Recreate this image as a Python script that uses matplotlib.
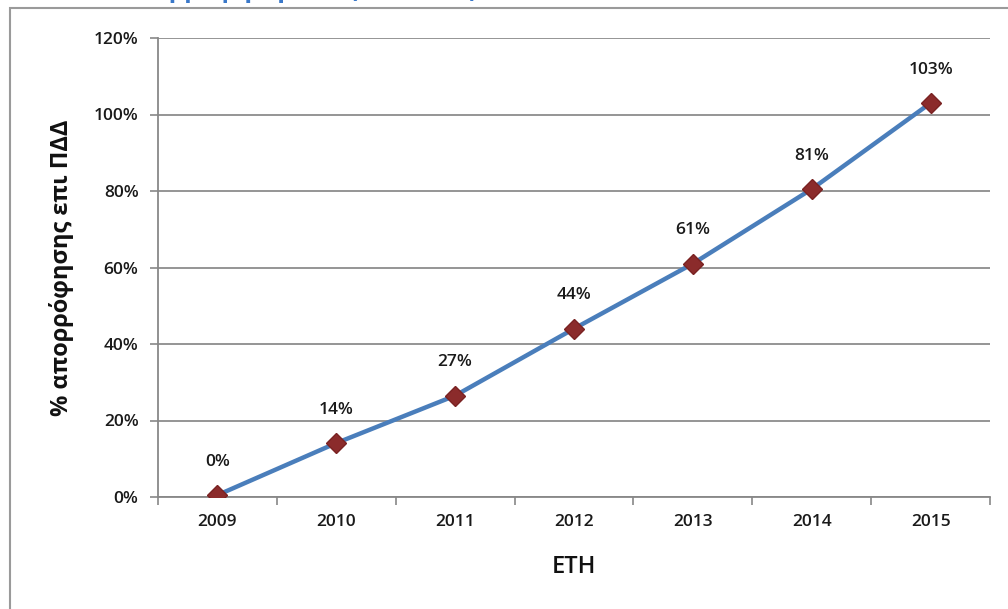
import matplotlib
matplotlib.use("Agg")
import matplotlib.pyplot as plt
from matplotlib.patches import Rectangle

years = ["2009", "2010", "2011", "2012", "2013", "2014", "2015"]
absorption = [0.005, 0.141, 0.265, 0.44, 0.61, 0.805, 1.03]
labels = ["0%", "14%", "27%", "44%", "61%", "81%", "103%"]
yticks = [0.0, 0.2, 0.4, 0.6, 0.8, 1.0, 1.2]
ytick_labels = ["0%", "20%", "40%", "60%", "80%", "100%", "120%"]

plt.rcParams['font.family'] = ['Open Sans', 'DejaVu Sans']

fig = plt.figure(figsize=(10.08, 6.09), dpi=100)
W, H = 1008, 609
# outer chart frame
fig.patches.append(Rectangle((10 / W, -0.1), 1.2, (H - 8) / H + 0.1, transform=fig.transFigure,
                             fill=False, edgecolor="#9a9a9a", linewidth=1.5))
# title cut off at the top edge (only its lower part is visible)
fig.text(0.295, 1.017, "Απορρόφηση ΠΔΔ (ποσοστό)", color="#3a78c9", fontsize=18,
         fontweight="bold", ha="center", va="center")

ax = fig.add_axes([158 / W, 1 - 497 / H, (990 - 158) / W, (497 - 38) / H])
x = list(range(len(years)))
ax.plot(x, absorption, color="#4a7ebb", linewidth=3.2, zorder=3)
ax.plot(x, absorption, linestyle="none", marker="D", markersize=10,
        markerfacecolor="#8b2b2b", markeredgecolor="#7a2222", zorder=4)
for xi, v, lab in zip(x, absorption, labels):
    ax.annotate(lab, (xi, v), xytext=(0, 24), textcoords="offset points",
                ha="center", va="center", fontsize=12.5, fontweight="semibold", color="#1a1a1a")

ax.set_xlim(-0.5, len(years) - 0.5)
ax.set_ylim(0, 1.2)
ax.set_yticks(yticks)
ax.set_yticklabels(ytick_labels, fontsize=12.5, fontweight="semibold", color="#1a1a1a")
ax.set_xticks(x)
ax.set_xticklabels(years, fontsize=12.5, fontweight="semibold", color="#1a1a1a")
ax.tick_params(axis="x", length=0, pad=12)
ax.set_xticks([i - 0.5 for i in range(len(years) + 1)], minor=True)
ax.tick_params(axis="x", which="minor", length=6, color="#888888", width=1.2)
ax.tick_params(axis="y", length=6, color="#888888", width=1.2, pad=8)
ax.yaxis.grid(True, color="#8c8c8c", linewidth=1.3)
ax.set_axisbelow(True)
for s in ["top", "right"]:
    ax.spines[s].set_visible(False)
for s in ["left", "bottom"]:
    ax.spines[s].set_color("#888888")
    ax.spines[s].set_linewidth(1.3)

fig.text(62 / W, 1 - 268 / H, "% απορρόφησης επι ΠΔΔ", fontsize=17, fontweight="bold",
         rotation=90, ha="center", va="center", color="#111111")
fig.text(574 / W, 1 - 567 / H, "ETH", fontsize=17, fontweight="semibold",
         ha="center", va="center", color="#111111")

fig.savefig("out.png", dpi=100)
